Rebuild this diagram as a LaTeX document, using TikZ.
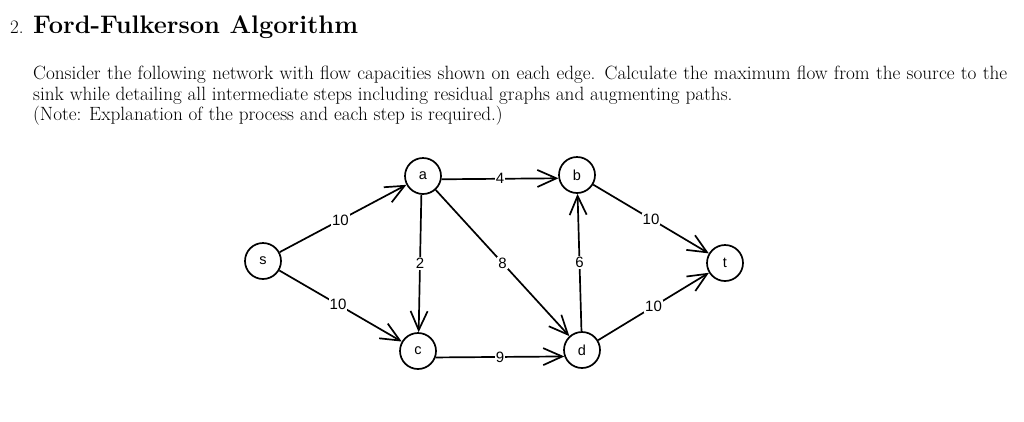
\documentclass[tikz,border=0pt]{standalone}
\usepackage{fontspec}
\newfontfamily\labfont{Liberation Sans}
\usetikzlibrary{arrows.meta}
\begin{document}
\begin{tikzpicture}[x=1pt,y=-1pt,
  vert/.style={circle,draw,line width=1.7pt,minimum size=36pt,inner sep=0pt,font=\labfont\fontsize{14.5}{14.5}\selectfont},
  edge/.style={line width=1.7pt,-{Straight Barb[length=19pt,width=17pt,line width=1.7pt]}},
  elabel/.style={fill=white,inner sep=1pt,font=\labfont\fontsize{15}{15}\selectfont},
  txt/.style={anchor=base west,inner sep=0pt,font=\fontsize{19.2}{23}\selectfont}]
\useasboundingbox (0,0) rectangle (1024,421);
\node[anchor=base west,inner sep=0pt,font=\fontsize{19}{23}\selectfont] (num) at (10,33) {2.};
\node[anchor=base west,inner sep=0pt,font=\fontsize{25.4}{30}\selectfont\bfseries] (title) at (33,33) {Ford-Fulkerson Algorithm};
\node[txt] (l1) at (33,79) {\makebox[974pt][s]{Consider the following network with flow capacities shown on each edge. Calculate the maximum flow from the source to the}};
\node[txt] (l2) at (33,100) {sink while detailing all intermediate steps including residual graphs and augmenting paths.};
\node[txt] (l3) at (33,120) {(Note: Explanation of the process and each step is required.)};
\node[vert] (s) at (263,261) {s};
\node[vert] (a) at (423,176) {a};
\node[vert] (b) at (577,175) {b};
\node[vert] (c) at (418,351) {c};
\node[vert] (d) at (582,350) {d};
\node[vert] (t) at (725,263) {t};
\draw[edge] (s) -- node[elabel,pos=0.48] {10} (a);
\draw[edge] (s) -- node[elabel,pos=0.48] {10} (c);
\draw[edge] (a.-10) -- node[elabel] {4} (b.190);
\draw[edge] (a.-95) -- node[elabel] {2} (c.88);
\draw[edge] (a) -- node[elabel,pos=0.5] {8} (d);
\draw[edge] (d) -- node[elabel] {6} (b);
\draw[edge] (b) -- node[elabel,pos=0.5] {10} (t);
\draw[edge] (c.-20) -- node[elabel] {9} (d.200);
\draw[edge] (d) -- node[elabel,pos=0.5] {10} (t);
\end{tikzpicture}
\end{document}
